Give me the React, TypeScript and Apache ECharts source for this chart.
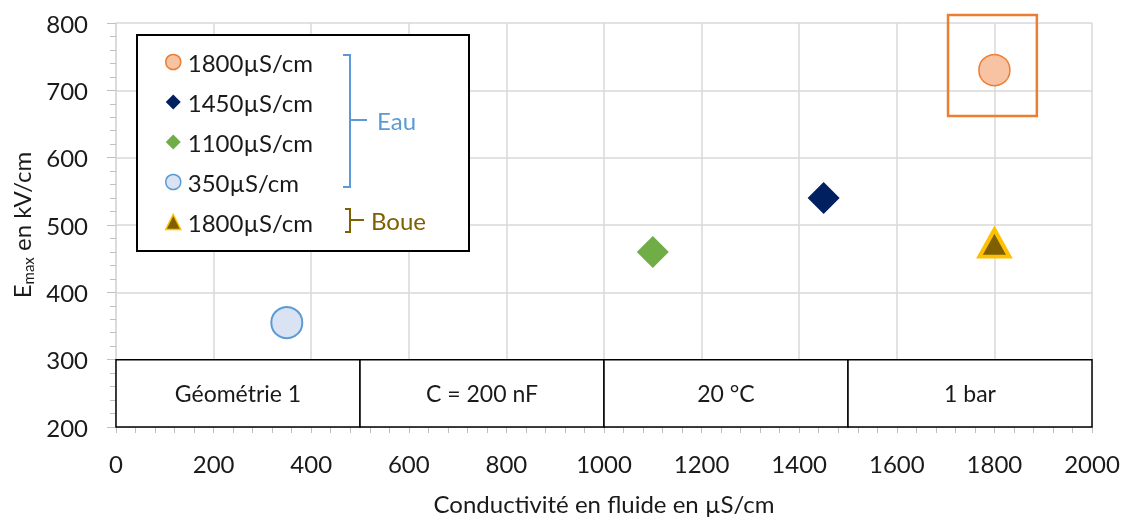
import React, { useEffect, useRef } from "react";
import * as echarts from "echarts";

const FONT = "Lato";
const TXT = "#1a1a1a";

const xTicksMin = 0;
const xTicksMax = 2000;
const yTicksMin = 200;
const yTicksMax = 800;

const seriesNames = ["1800µS/cm (Eau)", "1450µS/cm", "1100µS/cm", "350µS/cm", "1800µS/cm (Boue)"];
const eau1800 = [[1800, 730]];
const eau1450 = [[1450, 540]];
const eau1100 = [[1100, 460]];
const eau350 = [[350, 355]];
const boue1800 = [[1800, 473]];

const boxLabels = ["Géométrie 1", "C = 200 nF", "20 °C", "1 bar"];
const boxEdges = [0, 500, 1000, 1500, 2000];
const boxBottom = 200;
const boxTop = 300;

const highlightX = [1705, 1887];
const highlightY = [662, 812];

export default function App() {
  const ref = useRef<HTMLDivElement>(null);
  useEffect(() => {
    if (!ref.current) return;
    const chart = echarts.init(ref.current, null, { renderer: "svg" });
    const axisGray = "#d9d9d9";
    const boxes = boxLabels.map((name, i) => [
      { xAxis: boxEdges[i], yAxis: boxBottom, name },
      { xAxis: boxEdges[i + 1], yAxis: boxTop },
    ]);
    const option: any = {
      animation: false,
      textStyle: { fontFamily: FONT },
      grid: { left: 116, right: 34, top: 23, bottom: 93 },
      xAxis: {
        type: "value",
        min: xTicksMin,
        max: xTicksMax,
        interval: 200,
        name: "Conductivité en fluide en µS/cm",
        nameLocation: "middle",
        nameGap: 64,
        nameTextStyle: { fontSize: 24, color: TXT, fontFamily: FONT },
        axisLine: { show: true, lineStyle: { color: axisGray, width: 1.5 } },
        axisTick: { show: true, length: 6, lineStyle: { color: "#bfbfbf" } },
        minorTick: { show: true, splitNumber: 5, length: 6, lineStyle: { color: "#bfbfbf" } },
        splitLine: { show: true, lineStyle: { color: axisGray, width: 1.5 } },
        axisLabel: { fontSize: 24, color: TXT, margin: 24, fontFamily: FONT, formatter: (v: number) => String(v) },
      },
      yAxis: {
        type: "value",
        min: yTicksMin,
        max: yTicksMax,
        interval: 100,
        name: "{e|E}{s|max}{e| en kV/cm}",
        nameLocation: "middle",
        nameGap: 80,
        nameTextStyle: {
          color: TXT,
          fontFamily: FONT,
          rich: {
            e: { fontSize: 24, lineHeight: 28, color: TXT, fontFamily: FONT },
            s: { fontSize: 15, lineHeight: 15, padding: [12, 0, 0, 0], verticalAlign: "bottom", color: TXT, fontFamily: FONT },
          },
        },
        axisLine: { show: true, lineStyle: { color: axisGray, width: 1.5 } },
        axisTick: { show: true, length: 9, lineStyle: { color: "#bfbfbf" } },
        minorTick: { show: true, splitNumber: 5, length: 6, lineStyle: { color: "#bfbfbf" } },
        splitLine: { show: true, lineStyle: { color: axisGray, width: 1.5 } },
        axisLabel: { fontSize: 24, color: TXT, margin: 28, fontFamily: FONT, formatter: (v: number) => String(v) },
      },
      legend: {
        orient: "vertical",
        left: 165,
        top: 49,
        padding: 0,
        itemGap: 14,
        itemWidth: 15,
        itemHeight: 15,
        data: seriesNames,
        formatter: (n: string) => n.split(" ")[0],
        textStyle: { fontSize: 24, lineHeight: 26, color: TXT, fontFamily: FONT, padding: [0, 0, 0, 2] },
        itemStyle: { borderWidth: 1.5 },
        selectedMode: false,
        z: 6,
      },
      series: [
        {
          name: seriesNames[0],
          type: "scatter",
          symbol: "circle",
          symbolSize: 31,
          data: eau1800,
          itemStyle: { color: "#F7C3A3", borderColor: "#ED7D31", borderWidth: 1.5, opacity: 1 },
          z: 4,
        },
        {
          name: seriesNames[1],
          type: "scatter",
          symbol: "diamond",
          symbolSize: 32,
          data: eau1450,
          itemStyle: { color: "#002060", opacity: 1 },
          z: 4,
        },
        {
          name: seriesNames[2],
          type: "scatter",
          symbol: "diamond",
          symbolSize: 32,
          data: eau1100,
          itemStyle: { color: "#70AD47", opacity: 1 },
          z: 4,
        },
        {
          name: seriesNames[3],
          type: "scatter",
          symbol: "circle",
          symbolSize: 31,
          data: eau350,
          itemStyle: { color: "#DAE3F3", borderColor: "#5B9BD5", borderWidth: 2, opacity: 1 },
          z: 4,
          markArea: {
            silent: true,
            itemStyle: { color: "#ffffff", borderColor: "#000000", borderWidth: 1.5, opacity: 1 },
            label: {
              show: true,
              position: "inside",
              formatter: "{b}",
              fontSize: 23,
              color: TXT,
              fontFamily: FONT,
            },
            data: boxes,
          },
        },
        {
          name: seriesNames[4],
          type: "scatter",
          symbol: "triangle",
          symbolSize: [30, 27],
          data: boue1800,
          itemStyle: { color: "#7F6000", borderColor: "#FFC000", borderWidth: 4, opacity: 1 },
          z: 4,
        },
      ],
      graphic: [
        {
          type: "rect",
          z: 5,
          shape: { x: 137, y: 35, width: 332, height: 216 },
          style: { fill: "#ffffff", stroke: "#000000", lineWidth: 2 },
        },
        {
          type: "polyline",
          z: 7,
          shape: { points: [[343, 55], [350, 55], [350, 187], [343, 187]] },
          style: { stroke: "#5B9BD5", lineWidth: 2, fill: "none" },
        },
        {
          type: "line",
          z: 7,
          shape: { x1: 350, y1: 120, x2: 367, y2: 120 },
          style: { stroke: "#5B9BD5", lineWidth: 2 },
        },
        {
          type: "text",
          z: 7,
          x: 377,
          y: 120,
          style: { text: "Eau", fontSize: 24, fill: "#5B9BD5", fontFamily: FONT, verticalAlign: "middle" },
        },
        {
          type: "polyline",
          z: 7,
          shape: { points: [[345, 209], [350, 209], [350, 232], [345, 232]] },
          style: { stroke: "#7F6000", lineWidth: 2, fill: "none" },
        },
        {
          type: "line",
          z: 7,
          shape: { x1: 350, y1: 220, x2: 364, y2: 220 },
          style: { stroke: "#7F6000", lineWidth: 2 },
        },
        {
          type: "text",
          z: 7,
          x: 371,
          y: 220,
          style: { text: "Boue", fontSize: 24, fill: "#7F6000", fontFamily: FONT, verticalAlign: "middle" },
        },
      ],
    };
    chart.setOption(option);
    const p0 = chart.convertToPixel({ gridIndex: 0 }, [highlightX[0], highlightY[1]]) as number[];
    const p1 = chart.convertToPixel({ gridIndex: 0 }, [highlightX[1], highlightY[0]]) as number[];
    chart.setOption({
      graphic: [
        ...option.graphic,
        {
          type: "rect",
          z: 5,
          shape: { x: p0[0], y: p0[1], width: p1[0] - p0[0], height: p1[1] - p0[1] },
          style: { fill: "none", stroke: "#ED7D31", lineWidth: 2.5 },
        },
      ],
    });
    return () => chart.dispose();
  }, []);
  return <div ref={ref} style={{ position: "fixed", left: 0, top: 0, width: 1126, height: 520 }} />;
}
